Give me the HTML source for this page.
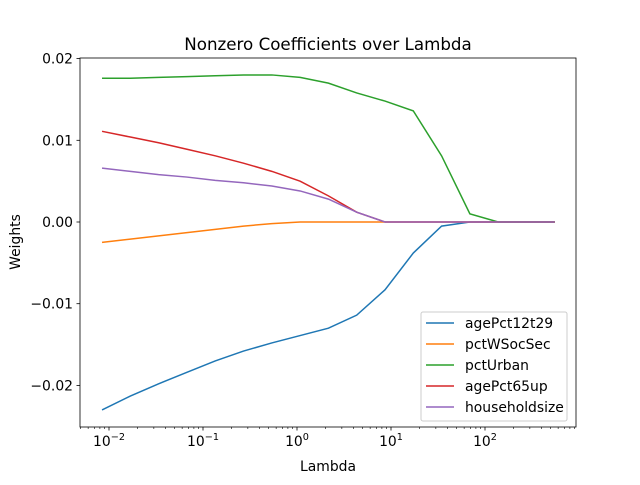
<!DOCTYPE html>
<html><head><meta charset="utf-8"><style>
body{margin:0;background:#fff;font-family:"Liberation Sans","DejaVu Sans",sans-serif}
svg text{font-family:"DejaVu Sans","Liberation Sans",sans-serif;font-size:13.9px;fill:#000}
</style></head><body>
<svg id="c" width="640" height="480" xmlns="http://www.w3.org/2000/svg">
<rect width="640" height="480" fill="#fff"/>
<text x="328" y="50" text-anchor="middle" style="font-size:16.7px">Nonzero Coefficients over Lambda</text>
<text x="328" y="471" text-anchor="middle">Lambda</text>
<text transform="translate(20,242) rotate(-90)" text-anchor="middle">Weights</text>
<g id="g"></g>
</svg>
<script>
const lambdas=[0.00843,0.01686,0.03372,0.06744,0.1349,0.2698,0.5395,1.079,2.158,4.316,8.632,17.26,34.53,69.06,138.1,276.2,552.5];
const seriesNames=["agePct12t29","pctWSocSec","pctUrban","agePct65up","householdsize"];
const colors=["#1f77b4","#ff7f0e","#2ca02c","#d62728","#9467bd"];
const s1=[-0.0230,-0.0213,-0.0198,-0.0184,-0.0170,-0.0158,-0.0148,-0.0139,-0.0130,-0.0114,-0.0083,-0.0038,-0.0005,0,0,0,0];
const s2=[-0.0025,-0.0021,-0.0017,-0.0013,-0.0009,-0.0005,-0.0002,0,0,0,0,0,0,0,0,0,0];
const s3=[0.0176,0.0176,0.0177,0.0178,0.0179,0.0180,0.0180,0.0177,0.0170,0.0158,0.0148,0.0136,0.0081,0.0010,0,0,0];
const s4=[0.0111,0.0104,0.0097,0.0089,0.0081,0.0072,0.0062,0.0050,0.0032,0.0012,0,0,0,0,0,0,0];
const s5=[0.0066,0.0062,0.0058,0.0055,0.0051,0.0048,0.0044,0.0038,0.0028,0.0012,0,0,0,0,0,0,0];
const yTicks=[-0.02,-0.01,0.00,0.01,0.02];
const yTickLabels=["−0.02","−0.01","0.00","0.01","0.02"];
const xDecades=[-2,-1,0,1,2];
const allSeries=[s1,s2,s3,s4,s5];
const NS="http://www.w3.org/2000/svg";
const L=80,R=576,T=58,B=427;
function X(v){return 297+94*Math.log10(v);}
function Y(v){return 222-v*8170;}
const g=document.getElementById('g');
function mk(t,a){const e=document.createElementNS(NS,t);for(const k in a)e.setAttribute(k,a[k]);g.appendChild(e);return e;}
xDecades.forEach(d=>{
 const x=X(Math.pow(10,d));
 const t=mk('line',{x1:x,x2:x,y1:B,y2:B+3.5,stroke:'#000','stroke-width':0.8});
 
 
 const tx=mk('text',{x:x,y:B+19,'text-anchor':'middle'});
 
 
 tx.innerHTML='10<tspan dy="-6" style="font-size:9.7px">'+(d<0?'−'+(-d):d)+'</tspan>';
});
for(let d=-3;d<=2;d++)for(let m=2;m<10;m++){
 const x=X(m*Math.pow(10,d));
 if(x<L||x>R)continue;
 const t=mk('line',{x1:x,x2:x,y1:B,y2:B+2,stroke:'#000','stroke-width':0.6});
 
 
}
yTicks.forEach((v,i)=>{
 const y=Y(v);
 const t=mk('line',{x1:L-3.5,x2:L,y1:y,y2:y,stroke:'#000','stroke-width':0.8});
 
 
 const tx=mk('text',{x:L-7,y:y+5,'text-anchor':'end'});
 
 
 tx.textContent=yTickLabels[i];
});
allSeries.forEach((s,i)=>{
 const p=mk('polyline',{points:s.map((v,j)=>X(lambdas[j])+','+Y(v)).join(' '),fill:'none',stroke:colors[i],'stroke-width':1.5});
 
 
});
const fr=mk('rect',{x:L,y:T,width:R-L,height:B-T,fill:'none',stroke:'#000','stroke-width':0.8});


const lg=mk('rect',{x:421,y:312,width:146,height:109,rx:2,fill:'#fff','fill-opacity':0.8,stroke:'#ccc','stroke-width':1});


seriesNames.forEach((n,i)=>{
 const y=323+21*i;
 const l=mk('line',{x1:426,x2:454,y1:y,y2:y,stroke:colors[i],'stroke-width':1.5});
 
 
 const t=mk('text',{x:465,y:y+5});
 
 
 t.textContent=n;
});
</script>
</body></html>
